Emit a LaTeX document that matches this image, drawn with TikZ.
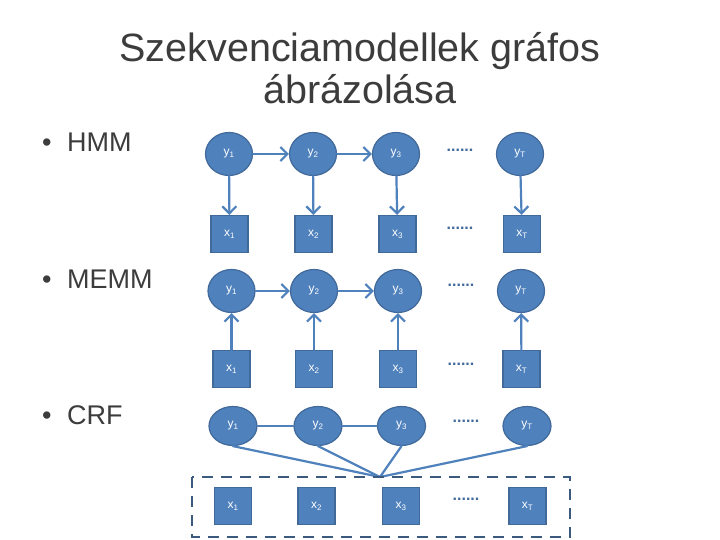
\documentclass[tikz,border=0pt]{standalone}
\usepackage{fontspec}
\setmainfont{Liberation Sans}
\usetikzlibrary{arrows.meta,shapes.geometric}
\definecolor{nodefill}{HTML}{4F81BD}
\definecolor{nodeline}{HTML}{41699A}
\definecolor{boxline}{HTML}{3C5A7E}
\definecolor{titlegray}{HTML}{3C3C3C}

\newcommand{\lbl}[2]{#1\textsubscript{#2}}

\tikzset{
  yvar/.style={ellipse,fill=nodefill,draw=nodeline,line width=1.2pt,minimum width=47pt,minimum height=43pt,inner sep=0pt,text=white,font=\fontsize{12}{13}\selectfont},
  xvar/.style={rectangle,fill=nodefill,draw=nodeline,line width=1.2pt,minimum size=37pt,inner sep=0pt,text=white,font=\fontsize{12}{13}\selectfont},
  link/.style={nodefill,line width=2.2pt},
  dir/.style={link,-{Straight Barb[length=7pt,width=14pt,line width=2.2pt]}},
  dots/.style={text=nodeline,font=\bfseries\fontsize{16}{17}\selectfont,inner sep=0pt},
  bul/.style={anchor=base west,text=titlegray,font=\fontsize{27}{30}\selectfont,inner sep=0pt},
}

\begin{document}
\begin{tikzpicture}[x=1pt,y=-1pt,line cap=round]
\useasboundingbox[fill=white] (0,0) rectangle (720,540);
% title
\node[anchor=base,text=titlegray,font=\fontsize{39.5}{44}\selectfont,inner sep=0pt] (title1) at (360,62) {Szekvenciamodellek gráfos};
\node[anchor=base,text=titlegray,font=\fontsize{39.5}{44}\selectfont,inner sep=0pt] (title2) at (360,104) {ábrázolása};
% bullets
\node[bul] (hmm) at (42,152) {\makebox[25pt][l]{•}HMM};
\node[bul] (memm) at (42,288) {\makebox[25pt][l]{•}MEMM};
\node[bul] (crf) at (42,424) {\makebox[25pt][l]{•}CRF};

% HMM
\node[yvar] (hy1) at (229,154) {\lbl{y}{1}};
\node[yvar] (hy2) at (313,154) {\lbl{y}{2}};
\node[yvar] (hy3) at (396,154) {\lbl{y}{3}};
\node[yvar] (hyT) at (520,154) {\lbl{y}{T}};
\node[xvar] (hx1) at (229.5,234) {\lbl{x}{1}};
\node[xvar] (hx2) at (313.5,234) {\lbl{x}{2}};
\node[xvar] (hx3) at (397.5,234) {\lbl{x}{3}};
\node[xvar] (hxT) at (522,234) {\lbl{x}{T}};
\node[dots] (hdy) at (460,150) {......};
\node[dots] (hdx) at (460,228) {......};
\draw[dir] (hy1) -- (hy2);
\draw[dir] (hy2) -- (hy3);
\draw[dir] (hy1) -- (hx1);
\draw[dir] (hy2) -- (hx2);
\draw[dir] (hy3) -- (hx3);
\draw[dir] (hyT) -- (hxT);

% MEMM
\node[yvar] (my1) at (231.5,291) {\lbl{y}{1}};
\node[yvar] (my2) at (314,291) {\lbl{y}{2}};
\node[yvar] (my3) at (398,291) {\lbl{y}{3}};
\node[yvar] (myT) at (521,291) {\lbl{y}{T}};
\node[xvar] (mx1) at (231.5,369) {\lbl{x}{1}};
\node[xvar] (mx2) at (314,369) {\lbl{x}{2}};
\node[xvar] (mx3) at (398,369) {\lbl{x}{3}};
\node[xvar] (mxT) at (521.5,369) {\lbl{x}{T}};
\node[dots] (mdy) at (461,285) {......};
\node[dots] (mdx) at (461,364) {......};
\draw[dir] (my1) -- (my2);
\draw[dir] (my2) -- (my3);
\draw[dir] (mx1) -- (my1);
\draw[dir] (mx2) -- (my2);
\draw[dir] (mx3) -- (my3);
\draw[dir] (mxT) -- (myT);

% CRF
\node[yvar,minimum width=48pt,minimum height=39pt] (cy1) at (233,426) {\lbl{y}{1}};
\node[yvar,minimum width=48pt,minimum height=39pt] (cy2) at (318,426) {\lbl{y}{2}};
\node[yvar,minimum width=48pt,minimum height=39pt] (cy3) at (401.5,426) {\lbl{y}{3}};
\node[yvar,minimum width=48pt,minimum height=39pt] (cyT) at (527,426) {\lbl{y}{T}};
\node[xvar] (cx1) at (233,506) {\lbl{x}{1}};
\node[xvar] (cx2) at (316.5,506) {\lbl{x}{2}};
\node[xvar] (cx3) at (401,506) {\lbl{x}{3}};
\node[xvar] (cxT) at (527.5,506) {\lbl{x}{T}};
\node[dots] (cdy) at (466,421) {......};
\node[dots] (cdx) at (466,499) {......};
\coordinate (hub) at (380,477);
\draw[link] (cy1) -- (cy2);
\draw[link] (cy2) -- (cy3);
\draw[link] (cy1.south) -- (hub);
\draw[link] (cy2.south) -- (hub);
\draw[link] (cy3.south) -- (hub);
\draw[link] (cyT.south) -- (hub);
\draw[boxline,line width=2.8pt,dash pattern=on 11pt off 8pt,line cap=butt] (192,477) rectangle (570,537);
\end{tikzpicture}
\end{document}
